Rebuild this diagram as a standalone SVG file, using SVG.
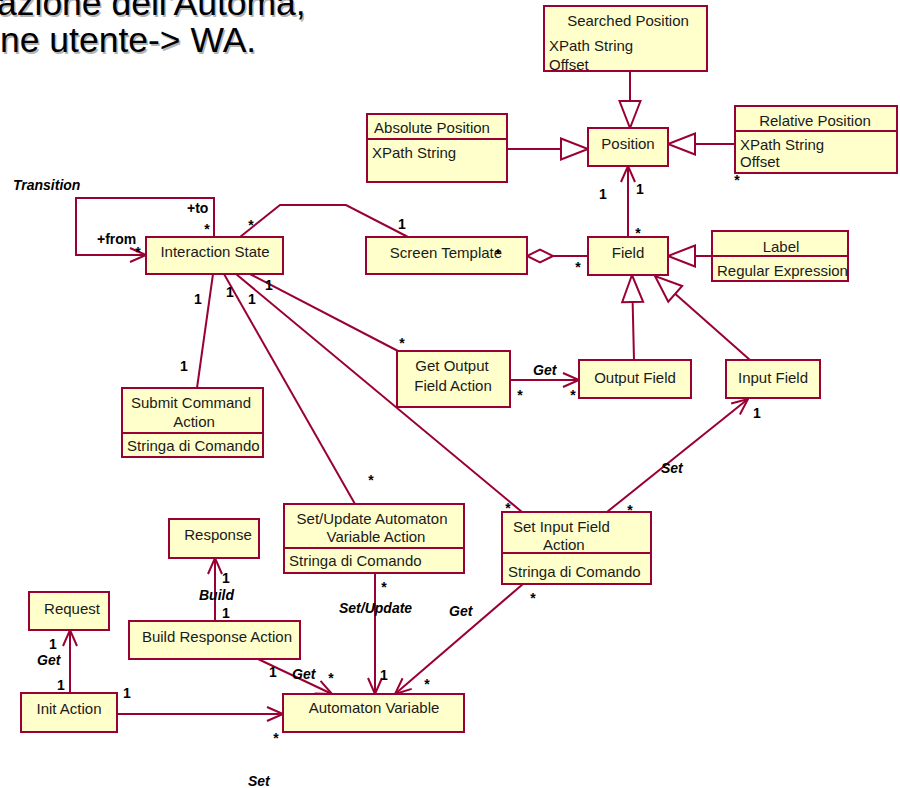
<svg xmlns="http://www.w3.org/2000/svg" width="900" height="788" viewBox="0 0 900 788">
  <style>
    .box { fill: #FFFFCC; stroke: #990033; stroke-width: 2; }
    .div { stroke: #990033; stroke-width: 2; }
    .edge { fill: none; stroke: #990033; stroke-width: 2; }
    .nt { font-family: "Liberation Sans", Arial, sans-serif; font-size: 15px; fill: #1a1a1a; }
    .mid { text-anchor: middle; }
    .mult { font-family: "Liberation Sans", Arial, sans-serif; font-size: 14px; font-weight: bold; fill: #000; }
    .role { font-family: "Liberation Sans", Arial, sans-serif; font-size: 14px; font-weight: bold; font-style: italic; fill: #000; }
    .title { font-family: "Liberation Sans", Arial, sans-serif; font-size: 35.5px; }
  </style>
  <defs>
    <marker id="open" markerUnits="userSpaceOnUse" markerWidth="20" markerHeight="18" refX="18" refY="9" orient="auto" overflow="visible">
      <path d="M2,2 L18,9 L2,16" fill="none" stroke="#990033" stroke-width="2"/>
    </marker>
    <marker id="gen" markerUnits="userSpaceOnUse" markerWidth="30" markerHeight="24" refX="28" refY="11.5" orient="auto" overflow="visible">
      <path d="M1,1 L28,11.5 L1,22 Z" fill="#FFFFFF" stroke="#990033" stroke-width="2"/>
    </marker>
    <marker id="agg" markerUnits="userSpaceOnUse" markerWidth="28" markerHeight="15" refX="26" refY="6.5" orient="auto" overflow="visible">
      <path d="M0,6.5 L13,0 L26,6.5 L13,13 Z" fill="#FFFFFF" stroke="#990033" stroke-width="2"/>
    </marker>
  </defs>

  <rect width="900" height="788" fill="#FFFFFF"/>

  <!-- slide heading (clipped at the top-left edge) -->
  <g id="heading">
    <text class="title" x="-1.5" y="16.5" fill="#B4B4B4">azione dell'Automa,</text>
    <text class="title" x="1.5" y="53.5" fill="#B4B4B4">ne utente-&gt; WA.</text>
    <text class="title" x="-3" y="15" fill="#000">azione dell'Automa,</text>
    <text class="title" x="0" y="52" fill="#000">ne utente-&gt; WA.</text>
  </g>

  <!-- connectors -->
  <g id="connectors">
    <path class="edge" d="M630,71 L630,128" marker-end="url(#gen)"/>
    <path class="edge" d="M507,149 L588,149" marker-end="url(#gen)"/>
    <path class="edge" d="M735,144 L668,144" marker-end="url(#gen)"/>
    <path class="edge" d="M628,237 L628,166" marker-end="url(#open)"/>
    <path class="edge" d="M588,256 L527,256" marker-end="url(#agg)"/>
    <path class="edge" d="M712,256 L668,256" marker-end="url(#gen)"/>
    <path class="edge" d="M634,360 L632,275" marker-end="url(#gen)"/>
    <path class="edge" d="M750,360 L655,276" marker-end="url(#gen)"/>
    <path class="edge" d="M214,237 L214,198 L76,198 L76,255 L146,255" marker-end="url(#open)"/>
    <path class="edge" d="M240,237 L280,205 L346,205 L408,237"/>
    <path class="edge" d="M213,274 L197,388"/>
    <path class="edge" d="M224,274 L355,504"/>
    <path class="edge" d="M236,274 L522,512"/>
    <path class="edge" d="M250,274 L398,351"/>
    <path class="edge" d="M510,380 L579,380" marker-end="url(#open)"/>
    <path class="edge" d="M607,512 L748,399" marker-end="url(#open)"/>
    <path class="edge" d="M375,573 L375,694" marker-end="url(#open)"/>
    <path class="edge" d="M523,584 L395,694" marker-end="url(#open)"/>
    <path class="edge" d="M258,659 L332,694" marker-end="url(#open)"/>
    <path class="edge" d="M215,621 L215,558" marker-end="url(#open)"/>
    <path class="edge" d="M70,693 L70,630" marker-end="url(#open)"/>
    <path class="edge" d="M117,714 L283,714" marker-end="url(#open)"/>
  </g>

  <!-- classes -->
  <g id="searched-position">
    <rect class="box" x="544" y="6" width="163" height="65"/>
    <text class="nt mid" x="628" y="26">Searched Position</text>
    <text class="nt" x="549" y="51">XPath String</text>
    <text class="nt" x="549" y="70">Offset</text>
  </g>
  <g id="absolute-position">
    <rect class="box" x="367" y="114" width="140" height="68"/>
    <line class="div" x1="367" y1="139" x2="507" y2="139"/>
    <text class="nt mid" x="432" y="133">Absolute Position</text>
    <text class="nt" x="372" y="158">XPath String</text>
  </g>
  <g id="position">
    <rect class="box" x="588" y="128" width="80" height="38"/>
    <text class="nt mid" x="628" y="149">Position</text>
  </g>
  <g id="relative-position">
    <rect class="box" x="735" y="106" width="162" height="67"/>
    <line class="div" x1="735" y1="131" x2="897" y2="131"/>
    <text class="nt mid" x="815" y="126">Relative Position</text>
    <text class="nt" x="740" y="150">XPath String</text>
    <text class="nt" x="740" y="167">Offset</text>
  </g>
  <g id="field">
    <rect class="box" x="588" y="237" width="80" height="38"/>
    <text class="nt mid" x="628" y="258">Field</text>
  </g>
  <g id="screen-template">
    <rect class="box" x="366" y="237" width="161" height="37"/>
    <text class="nt mid" x="446" y="258">Screen Template</text>
  </g>
  <g id="label">
    <rect class="box" x="712" y="231" width="136" height="50"/>
    <line class="div" x1="712" y1="256" x2="848" y2="256"/>
    <text class="nt mid" x="781" y="252">Label</text>
    <text class="nt" x="717" y="276">Regular Expression</text>
  </g>
  <g id="interaction-state">
    <rect class="box" x="146" y="237" width="137" height="37"/>
    <text class="nt mid" x="215" y="257">Interaction State</text>
  </g>
  <g id="submit-command-action">
    <rect class="box" x="122" y="388" width="141" height="69"/>
    <line class="div" x1="122" y1="433" x2="263" y2="433"/>
    <text class="nt mid" x="191" y="408">Submit Command</text>
    <text class="nt mid" x="194" y="427">Action</text>
    <text class="nt" x="127" y="451">Stringa di Comando</text>
  </g>
  <g id="get-output-field-action">
    <rect class="box" x="397" y="351" width="113" height="56"/>
    <text class="nt mid" x="452" y="371">Get Output</text>
    <text class="nt mid" x="453" y="391">Field Action</text>
  </g>
  <g id="output-field">
    <rect class="box" x="579" y="360" width="112" height="38"/>
    <text class="nt mid" x="635" y="383">Output Field</text>
  </g>
  <g id="input-field">
    <rect class="box" x="726" y="360" width="94" height="38"/>
    <text class="nt mid" x="773" y="383">Input Field</text>
  </g>
  <g id="set-update-automaton-variable-action">
    <rect class="box" x="284" y="504" width="180" height="69"/>
    <line class="div" x1="284" y1="548" x2="464" y2="548"/>
    <text class="nt mid" x="372" y="524">Set/Update Automaton</text>
    <text class="nt mid" x="376" y="542">Variable Action</text>
    <text class="nt" x="289" y="566">Stringa di Comando</text>
  </g>
  <g id="set-input-field-action">
    <rect class="box" x="502" y="512" width="149" height="72"/>
    <line class="div" x1="502" y1="553" x2="651" y2="553"/>
    <text class="nt" x="513" y="532">Set Input Field</text>
    <text class="nt" x="543" y="550">Action</text>
    <text class="nt" x="508" y="577">Stringa di Comando</text>
  </g>
  <g id="response">
    <rect class="box" x="169" y="519" width="90" height="39"/>
    <text class="nt mid" x="218" y="540">Response</text>
  </g>
  <g id="request">
    <rect class="box" x="29" y="592" width="80" height="38"/>
    <text class="nt mid" x="72" y="614">Request</text>
  </g>
  <g id="build-response-action">
    <rect class="box" x="129" y="621" width="171" height="38"/>
    <text class="nt mid" x="217" y="642">Build Response Action</text>
  </g>
  <g id="init-action">
    <rect class="box" x="21" y="693" width="96" height="39"/>
    <text class="nt mid" x="69" y="714">Init Action</text>
  </g>
  <g id="automaton-variable">
    <rect class="box" x="283" y="694" width="181" height="38"/>
    <text class="nt mid" x="374" y="713">Automaton Variable</text>
  </g>

  <!-- association ends and names -->
  <g id="labels">
    <text class="role" x="13" y="190">Transition</text>
    <text class="mult" x="187" y="213">+to</text>
    <text class="mult mid" x="207" y="234">*</text>
    <text class="mult" x="97" y="244">+from</text>
    <text class="mult mid" x="138" y="257">*</text>
    <text class="mult mid" x="251" y="230">*</text>
    <text class="mult mid" x="402" y="229">1</text>
    <text class="mult mid" x="498" y="259">*</text>
    <text class="mult mid" x="578" y="272">*</text>
    <text class="mult mid" x="603" y="199">1</text>
    <text class="mult mid" x="640" y="194">1</text>
    <text class="mult mid" x="638" y="238">*</text>
    <text class="mult mid" x="737" y="185">*</text>

    <text class="mult mid" x="198" y="304">1</text>
    <text class="mult mid" x="230" y="297">1</text>
    <text class="mult mid" x="252" y="304">1</text>
    <text class="mult mid" x="269" y="290">1</text>
    <text class="mult mid" x="184" y="371">1</text>
    <text class="mult mid" x="402" y="348">*</text>
    <text class="role" x="533" y="375">Get</text>
    <text class="mult mid" x="520" y="400">*</text>
    <text class="mult mid" x="573" y="400">*</text>
    <text class="mult mid" x="757" y="418">1</text>
    <text class="role" x="661" y="473">Set</text>
    <text class="mult mid" x="630" y="515">*</text>
    <text class="mult mid" x="371" y="485">*</text>
    <text class="mult mid" x="508" y="513">*</text>

    <text class="mult mid" x="384" y="592">*</text>
    <text class="mult mid" x="533" y="603">*</text>
    <text class="role" x="339" y="613">Set/Update</text>
    <text class="role" x="449" y="616">Get</text>
    <text class="mult mid" x="384" y="680">1</text>
    <text class="mult mid" x="427" y="689">*</text>
    <text class="mult mid" x="273" y="677">1</text>
    <text class="role" x="292" y="679">Get</text>
    <text class="mult mid" x="331" y="683">*</text>
    <text class="mult mid" x="276" y="743">*</text>

    <text class="mult mid" x="226" y="583">1</text>
    <text class="role" x="199" y="600">Build</text>
    <text class="mult mid" x="226" y="618">1</text>
    <text class="mult mid" x="53" y="649">1</text>
    <text class="role" x="37" y="665">Get</text>
    <text class="mult mid" x="61" y="690">1</text>
    <text class="mult mid" x="127" y="698">1</text>
    <text class="role" x="248" y="786">Set</text>
  </g>
</svg>
